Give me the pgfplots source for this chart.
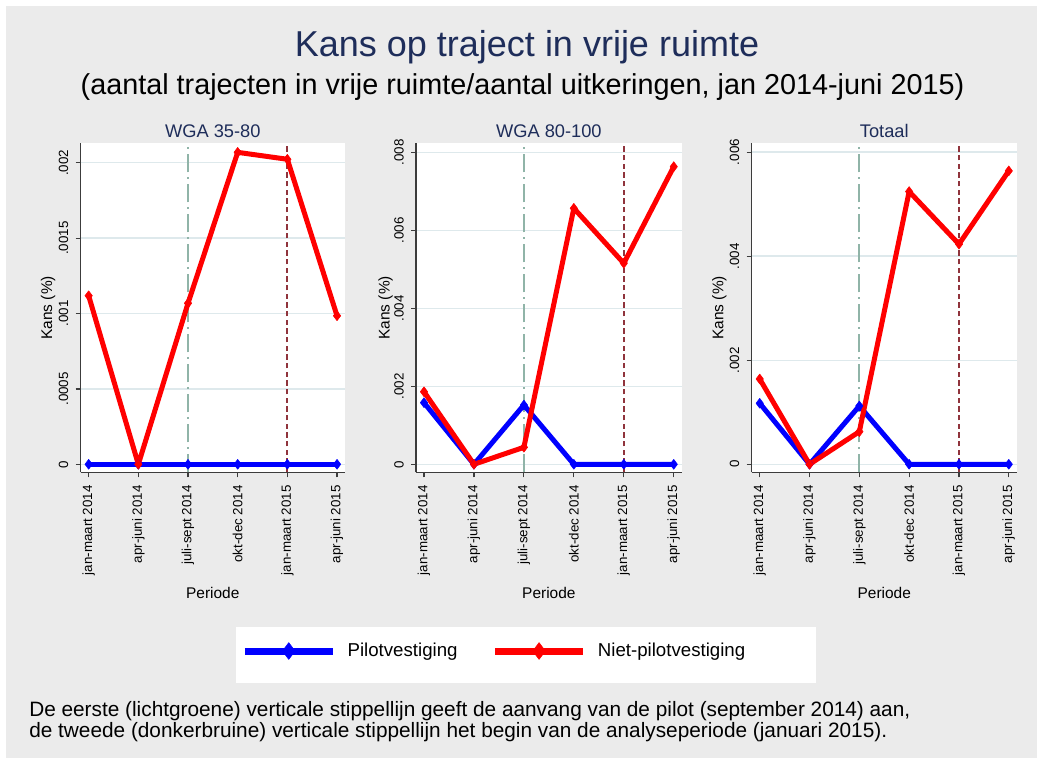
\documentclass[border=0pt]{standalone}
\usepackage{fontspec}
\setmainfont{Liberation Sans}
\usepackage{pgfplots}
\usepackage{pgfplotstable}
\pgfplotsset{compat=1.18}
\definecolor{bg}{RGB}{235,235,235}
\definecolor{navy}{RGB}{30,45,90}
\definecolor{gridc}{RGB}{222,233,236}
\definecolor{pgreen}{RGB}{144,180,168}
\definecolor{dbrown}{RGB}{144,52,60}
\definecolor{axc}{RGB}{60,60,60}
\definecolor{pblue}{RGB}{0,0,255}
\definecolor{pred}{RGB}{255,0,0}

\pgfplotstableread{
x pilot niet
1 0 0.001118
2 0 0
3 0 0.001068
4 0 0.002069
5 0 0.002023
6 0 0.000985
}\tabA
\pgfplotstableread{
x pilot niet
1 0.00158 0.00186
2 0 0
3 0.00152 0.000436
4 0 0.006564
5 0 0.005154
6 0 0.007631
}\tabB
\pgfplotstableread{
x pilot niet
1 0.001173 0.00164
2 0 0
3 0.001121 0.000627
4 0 0.005242
5 0 0.004231
6 0 0.00564
}\tabC

\pgfplotsset{
  panel/.style={
    scale only axis, height=246.75pt,
    xmin=0.84, xmax=6.16,
    axis x line*=bottom, axis y line*=left,
    axis line style={axc, line width=1.1pt},
    tick align=outside, major tick length=3.75pt,
    tick style={axc, line width=0.9pt},
    scaled y ticks=false,
    xtick={1,2,3,4,5,6},
    xticklabels={jan-maart 2014, apr-juni 2014, juli-sept 2014, okt-dec 2014, jan-maart 2015, apr-juni 2015},
    xticklabel style={rotate=90, anchor=east, font=\fontsize{10}{11}\selectfont},
    yticklabel style={rotate=90, anchor=south, font=\fontsize{10}{11}\selectfont},
    xticklabel shift=2.5pt, yticklabel shift=2pt,
    ymajorgrids, major grid style={gridc, line width=1.1pt},
    axis background/.style={fill=white},
    /pgf/number format/assume math mode=true,
    legend image code/.code={
      \draw[mark repeat=2, mark phase=2, #1, line width=5.25pt, mark size=6.3pt]
        plot coordinates {(0pt,0pt) (33pt,0pt) (66pt,0pt)};
    },
  },
  pilot/.style={pblue, line width=3.75pt, line join=round, mark=diamond*, mark size=3.7pt, mark options={solid, line width=0.4pt, fill=pblue, draw=pblue}},
  niet/.style={pred, line width=3.75pt, line join=round, mark=diamond*, mark size=3.7pt, mark options={solid, line width=0.4pt, fill=pred, draw=pred}},
  vgreen/.style={pgreen, line width=1.5pt, dash pattern=on 14pt off 3.5pt on 1.5pt off 3.5pt, forget plot},
  vbrown/.style={dbrown, line width=1.5pt, dash pattern=on 4pt off 2.5pt, forget plot},
}

\begin{document}
\begin{tikzpicture}
\fill[white] (0pt,0pt) rectangle (777.75pt,568.5pt);
\fill[bg] (4.5pt,0pt) rectangle (777.75pt,564pt);
\fill[white] (177pt,56.25pt) rectangle (612pt,98.25pt);

% Panel 1
\begin{axis}[panel, at={(60.53pt,214.28pt)}, anchor=south west, width=198.2pt,
  ymin=-0.000053, ymax=0.002129,
  ytick={0,0.0005,0.001,0.0015,0.002}, yticklabels={0,.0005,.001,.0015,.002},
  legend columns=2,
  legend style={at={(axis description cs:0.6065,-0.5432)}, anchor=west, draw=none, fill=none,
    inner sep=0pt, font=\fontsize{14}{16}\selectfont,
    /tikz/every odd column/.append style={column sep=6.5pt},
    /tikz/every even column/.append style={column sep=23.5pt}},
]
\addplot[vgreen] coordinates {(3,-0.000053) (3,0.002129)};
\addplot[vbrown] coordinates {(5,-0.000053) (5,0.002129)};
\addplot[pilot] table[x=x, y=pilot] {\tabA};
\addplot[niet] table[x=x, y=niet] {\tabA};
\legend{Pilotvestiging, Niet-pilotvestiging}
\end{axis}

% Panel 2
\begin{axis}[panel, at={(312pt,214.28pt)}, anchor=south west, width=199.3pt,
  ymin=-0.000205, ymax=0.00823,
  ytick={0,0.002,0.004,0.006,0.008}, yticklabels={0,.002,.004,.006,.008},
]
\addplot[vgreen] coordinates {(3,-0.000205) (3,0.00823)};
\addplot[vbrown] coordinates {(5,-0.000205) (5,0.00823)};
\addplot[pilot] table[x=x, y=pilot] {\tabB};
\addplot[niet] table[x=x, y=niet] {\tabB};
\end{axis}

% Panel 3
\begin{axis}[panel, at={(563.8pt,214.28pt)}, anchor=south west, width=198.75pt,
  ymin=-0.000154, ymax=0.00617,
  ytick={0,0.002,0.004,0.006}, yticklabels={0,.002,.004,.006},
]
\addplot[vgreen] coordinates {(3,-0.000154) (3,0.00617)};
\addplot[vbrown] coordinates {(5,-0.000154) (5,0.00617)};
\addplot[pilot] table[x=x, y=pilot] {\tabC};
\addplot[niet] table[x=x, y=niet] {\tabC};
\end{axis}

% Titles
\node[anchor=base, text=navy, font=\fontsize{27}{30}\selectfont] at (395.25pt,526pt) {Kans op traject in vrije ruimte};
\node[anchor=base, font=\fontsize{21.6}{24}\selectfont] at (391.9pt,497.25pt) {(aantal trajecten in vrije ruimte/aantal uitkeringen, jan 2014-juni 2015)};

\foreach \cx/\t in {159.6/WGA 35-80, 411.65/WGA 80-100, 663.2/Totaal}
  \node[anchor=base, text=navy, font=\fontsize{13.7}{15}\selectfont] at (\cx pt,465pt) {\t};

\foreach \lx in {39, 292.2, 542.6}
  \node[anchor=base, rotate=90, font=\fontsize{11.6}{13}\selectfont] at (\lx pt,337.65pt) {Kans (\%)};

\foreach \cx in {159.6, 411.65, 663.2}
  \node[anchor=base, font=\fontsize{11.6}{13}\selectfont] at (\cx pt,120pt) {Periode};

\node[anchor=base west, inner sep=0pt, font=\fontsize{15.6}{17}\selectfont] at (21.75pt,31.5pt) {De eerste (lichtgroene) verticale stippellijn geeft de aanvang van de pilot (september 2014) aan,};
\node[anchor=base west, inner sep=0pt, font=\fontsize{15.6}{17}\selectfont] at (21.75pt,15.75pt) {de tweede (donkerbruine) verticale stippellijn het begin van de analyseperiode (januari 2015).};

\pgfresetboundingbox
\useasboundingbox (0pt,0pt) rectangle (777.75pt,568.5pt);
\end{tikzpicture}
\end{document}
